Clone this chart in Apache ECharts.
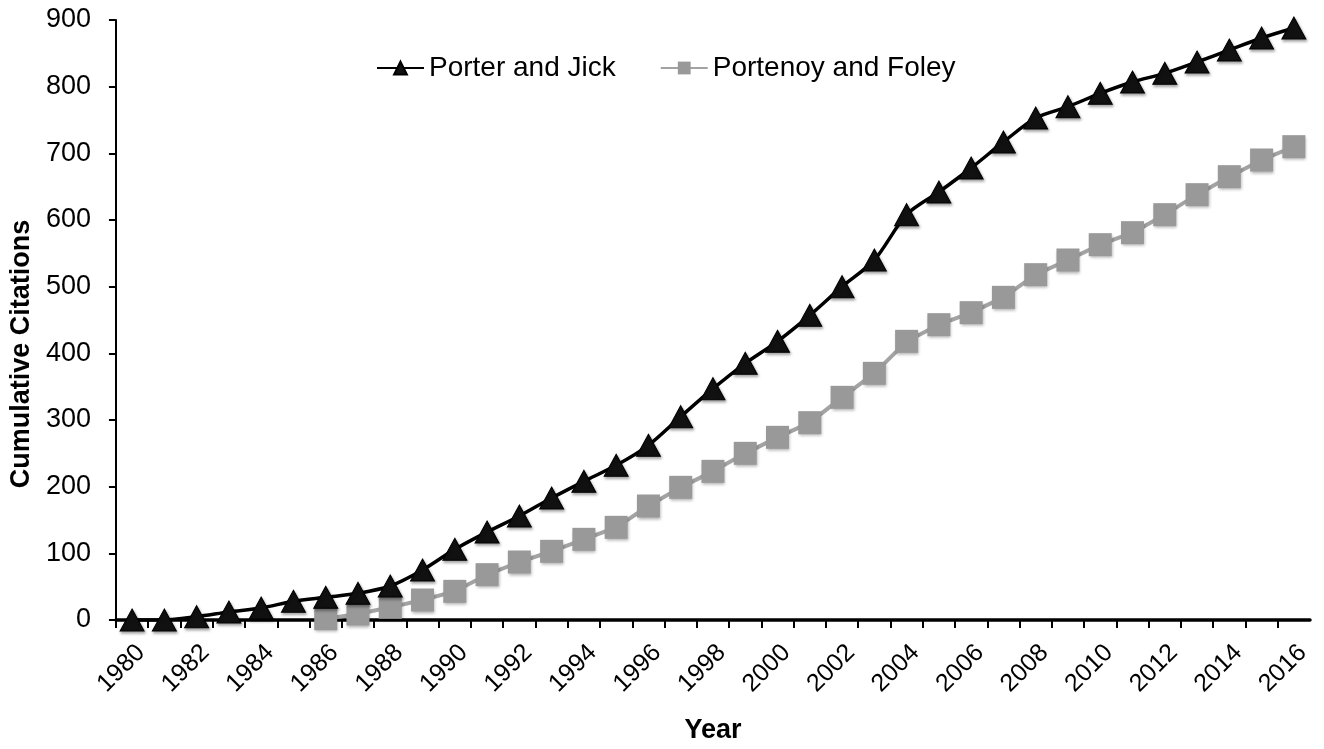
<!DOCTYPE html>
<html>
<head>
<meta charset="utf-8">
<script src="https://cdn.jsdelivr.net/npm/echarts@6/dist/echarts.min.js"></script>
<style>
html,body{margin:0;padding:0;background:#fff;}
#chart{width:1324px;height:749px;}
</style>
</head>
<body>
<div id="chart"></div>
<script>
var years = [];
for (var y = 1980; y <= 2016; y++) { years.push(String(y)); }

var porterJick = [0,0,5,12,18,28,34,40,51,75,106,132,156,183,208,232,262,305,347,385,418,457,500,540,608,642,678,717,753,770,790,807,820,837,855,873,888];

var portenoyFoley = [null,null,null,null,null,null,2,9,19,30,43,68,87,103,121,139,171,199,223,250,274,296,334,370,418,443,461,484,518,540,563,581,608,638,665,690,710];

var yTicks = {min: 0, max: 900, interval: 100};

var FONT = 'Liberation Sans, Arial, sans-serif';
var chart = echarts.init(document.getElementById('chart'));
chart.setOption({
  animation: false,
  backgroundColor: '#fff',
  textStyle: {fontFamily: FONT},
  grid: {left: 115, right: 14, top: 20, bottom: 128, containLabel: false},
  legend: {
    left: 371, top: 49,
    itemWidth: 47, itemHeight: 16, itemGap: 44,
    textStyle: {fontSize: 28, color: '#000', fontFamily: FONT},
    data: ['Porter and Jick', 'Portenoy and Foley']
  },
  xAxis: {
    type: 'category',
    data: years,
    boundaryGap: true,
    name: 'Year',
    nameLocation: 'middle',
    nameGap: 97,
    nameTextStyle: {fontSize: 27, fontWeight: 'bold', color: '#000', fontFamily: FONT},
    axisLine: {show: true, lineStyle: {color: '#000', width: 3.5}},
    axisTick: {show: true, interval: 0, length: 8, lineStyle: {color: '#000', width: 2}},
    axisLabel: {interval: 1, rotate: 45, fontSize: 25, color: '#000', margin: 20, verticalAlign: 'top', fontFamily: FONT},
    splitLine: {show: false}
  },
  yAxis: {
    type: 'value',
    min: yTicks.min, max: yTicks.max, interval: yTicks.interval,
    name: 'Cumulative Citations',
    nameLocation: 'middle',
    nameGap: 79,
    nameTextStyle: {fontSize: 27, fontWeight: 'bold', color: '#000', fontFamily: FONT, padding: [0, 68, 0, 0]},
    axisLine: {show: true, lineStyle: {color: '#000', width: 2}},
    axisTick: {show: true, length: 7, lineStyle: {color: '#000', width: 2}},
    axisLabel: {fontSize: 27, color: '#000', margin: 25, fontFamily: FONT},
    splitLine: {show: false}
  },
  series: [
    {
      name: 'Porter and Jick',
      type: 'line',
      data: porterJick,
      smooth: 0.3,
      showAllSymbol: true,
      symbol: 'triangle',
      symbolSize: [24, 22],
      z: 3,
      lineStyle: {color: '#000', width: 3.5},
      itemStyle: {color: '#111', borderColor: '#000', borderWidth: 1, shadowBlur: 3, shadowOffsetX: 1, shadowOffsetY: 2, shadowColor: 'rgba(0,0,0,0.35)'}
    },
    {
      name: 'Portenoy and Foley',
      type: 'line',
      data: portenoyFoley,
      smooth: false,
      showAllSymbol: true,
      symbol: 'rect',
      symbolSize: 23,
      z: 2,
      lineStyle: {color: '#a3a3a3', width: 4},
      itemStyle: {color: '#999999', shadowBlur: 3, shadowOffsetX: 1, shadowOffsetY: 2, shadowColor: 'rgba(0,0,0,0.3)'}
    }
  ]
});
</script>
</body>
</html>
